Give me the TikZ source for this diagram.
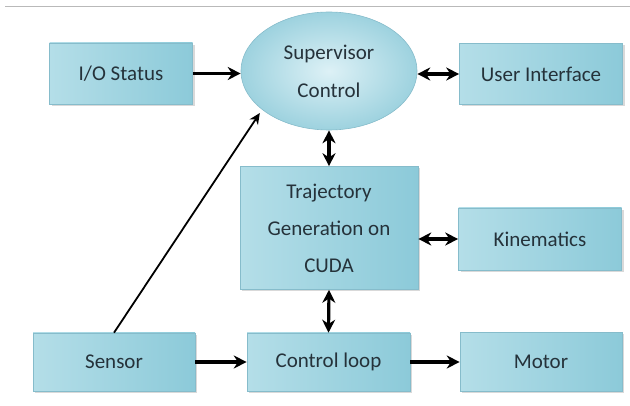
\documentclass[tikz,border=0pt]{standalone}
\usepackage{fontspec}
\setmainfont{Carlito}
\usepackage{tikz}
\usetikzlibrary{positioning,
				shapes.geometric,
				arrows.meta,
				shadows,
				calc}

\definecolor{boxlight}{HTML}{DDF1F6}
\definecolor{boxmid}{HTML}{B4DEE8}
\definecolor{boxdark}{HTML}{8CCAD9}
\definecolor{boxline}{HTML}{86BCCB}
\definecolor{txtcol}{HTML}{25323A}

\tikzset{
	block/.style={draw=boxline, line width=.6pt,
		left color=boxmid, middle color=boxlight, right color=boxdark,
		minimum width=163pt, minimum height=61pt,
		text=txtcol, font=\fontsize{21}{37}\selectfont, align=center,
		drop shadow={shadow xshift=2pt, shadow yshift=-2pt, opacity=.3, fill=black!50}},
	oval/.style={ellipse, draw=boxline, line width=.6pt,
		inner color=boxlight, outer color=boxdark!85,
		minimum width=176pt, minimum height=118pt, inner sep=0pt,
		text=txtcol, font=\fontsize{21}{38}\selectfont, align=center},
	link/.style={line width=3.2pt, -{Stealth[length=13pt,width=13pt]}},
	twoway/.style={line width=3.2pt, {Stealth[length=13pt,width=13pt]}-{Stealth[length=13pt,width=13pt]}}
}

\begin{document}
\begin{tikzpicture}[x=1pt,y=-1pt]
	\useasboundingbox (0,0) rectangle (630,406);
	\draw[gray!55, line width=1pt] (5,7) -- (630,7);

	% upper row
	\node[block, minimum width=143pt] (iostat) at (121,73.5) {I/O Status};
	\node[oval] (superv) at (329,71) {Supervisor\\Control};
	\node[block] (usrif) at (541,74) {User Interface};

	% middle
	\node[block, minimum width=178pt, minimum height=123pt] (traj) at (329,228) {Trajectory\\Generation on\\CUDA};
	\node[block, minimum height=62pt] (kinem) at (540,239) {Kinematics};

	% lower row
	\node[block, minimum width=162pt, minimum height=58pt] (sensor) at (114,362) {Sensor};
	\node[block, minimum height=58pt] (ctrl) at (328.5,362) {Control loop};
	\node[block, minimum width=162pt, minimum height=59pt] (motor) at (541,362) {Motor};

	% connectors
	\draw[link] (iostat) -- (superv.west |- iostat);
	\draw[twoway] (superv.east |- usrif.west) -- (usrif.west);
	\draw[twoway] (superv.south) -- (traj.north);
	\draw[twoway] (kinem.west -| traj.east) -- (kinem.west);
	\draw[twoway] (traj.south) -- (ctrl.north);
	\draw[link] (sensor) -- (ctrl);
	\draw[link] (ctrl) -- (motor);
	\draw[line width=1.8pt, -{Stealth[length=11pt,width=10pt]}, shorten >=4pt] (sensor.north) -- (superv.210);
\end{tikzpicture}
\end{document}
